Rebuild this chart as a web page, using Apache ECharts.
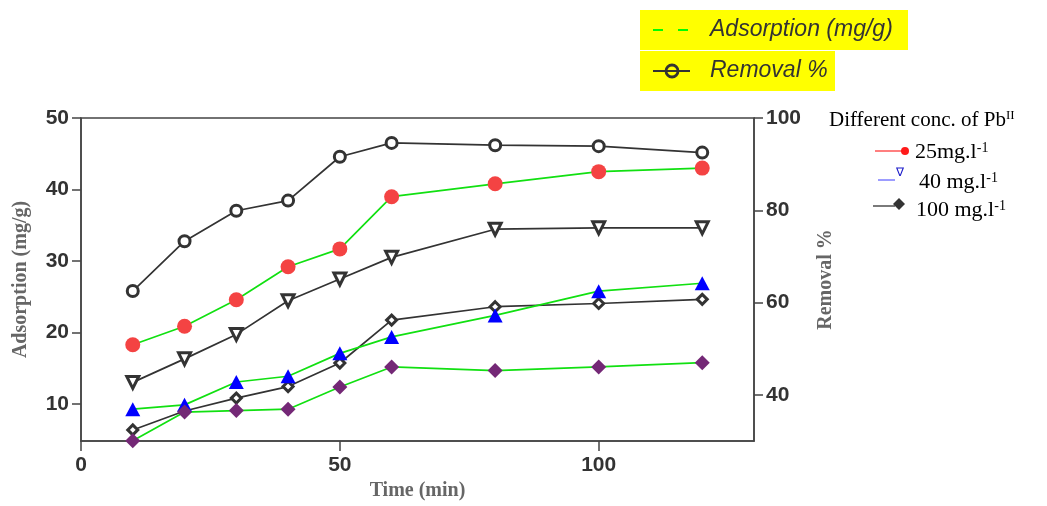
<!DOCTYPE html>
<html>
<head>
<meta charset="utf-8">
<script src="https://cdn.jsdelivr.net/npm/echarts@6/dist/echarts.min.js"></script>
<style>
  html, body { margin: 0; padding: 0; background: #fff; }
  #chart { width: 1047px; height: 506px; }
</style>
</head>
<body>
<div id="chart"></div>
<script>
// ---- data ----
const times = [10, 20, 30, 40, 50, 60, 80, 100, 120];
// Adsorption (mg/g) – left axis
const ads25  = [18.3, 20.9, 24.6, 29.2, 31.7, 39.0, 40.8, 42.5, 43.0];
const ads40  = [9.3, 9.9, 13.1, 13.9, 17.1, 19.4, 22.4, 25.8, 26.9];
const ads100 = [4.9, 8.9, 9.1, 9.3, 12.4, 15.2, 14.7, 15.2, 15.8];
// Removal % – right axis
const rem25  = [62.5, 73.3, 79.9, 82.1, 91.6, 94.6, 94.1, 93.9, 92.5];
const rem40  = [42.7, 47.8, 53.1, 60.4, 65.1, 69.8, 75.9, 76.2, 76.2];
const rem100 = [32.4, 36.5, 39.3, 41.8, 46.9, 56.2, 59.1, 59.8, 60.7];
// tick labels
const xTicks = [0, 50, 100];
const leftTicks = [10, 20, 30, 40, 50];
const rightTicks = [40, 60, 80, 100];

const pairs = arr => times.map((t, i) => [t, arr[i]]);

const AXIS = '#444';
const SANS = '"Liberation Sans", Arial, sans-serif';
const SERIF = '"Liberation Serif", "Times New Roman", serif';
const GREEN = '#11e011';
const DARK = '#333';

const labelStyle = { color: '#333', fontFamily: SANS, fontWeight: 'bold', fontSize: 21 };
const nameStyle = { color: '#666', fontFamily: SERIF, fontWeight: 'bold', fontSize: 20 };

function adsSeries(name, data, symbol, size, color) {
  return {
    name, type: 'line', yAxisIndex: 0, data: pairs(data),
    symbol, symbolSize: size, showAllSymbol: true,
    lineStyle: { color: GREEN, width: 1.7 },
    itemStyle: { color: color, borderWidth: 0 },
    emphasis: { disabled: true }, z: 3
  };
}
function remSeries(name, data, symbol, size, rotate) {
  return {
    name, type: 'line', yAxisIndex: 1, data: pairs(data),
    symbol, symbolSize: size, symbolRotate: rotate || 0, showAllSymbol: true,
    lineStyle: { color: DARK, width: 1.7 },
    itemStyle: { color: '#fff', borderColor: DARK, borderWidth: 3 },
    emphasis: { disabled: true }, z: 2
  };
}

const chart = echarts.init(document.getElementById('chart'));
chart.setOption({
  animation: false,
  backgroundColor: '#fff',
  grid: { left: 81, right: 293, top: 118, bottom: 61, show: true, borderColor: AXIS, borderWidth: 1.5, backgroundColor: 'transparent' },
  xAxis: {
    type: 'value', min: 0, max: 130,
    name: 'Time (min)', nameLocation: 'middle', nameGap: 40, nameTextStyle: nameStyle,
    axisLine: { show: true, onZero: false, lineStyle: { color: AXIS, width: 1.5 } },
    axisTick: { show: true, length: 10, customValues: xTicks, lineStyle: { color: AXIS, width: 1.5 } },
    axisLabel: { customValues: xTicks, margin: 14, ...labelStyle },
    splitLine: { show: false }
  },
  yAxis: [
    {
      type: 'value', min: 4.85, max: 50, position: 'left',
      name: 'Adsorption (mg/g)', nameLocation: 'middle', nameGap: 50, nameRotate: 90, nameTextStyle: nameStyle,
      axisLine: { show: true, onZero: false, lineStyle: { color: AXIS, width: 1.5 } },
      axisTick: { show: true, length: 9, customValues: leftTicks, lineStyle: { color: AXIS, width: 1.5 } },
      axisLabel: { customValues: leftTicks, margin: 12, ...labelStyle },
      splitLine: { show: false }
    },
    {
      type: 'value', min: 30, max: 100, position: 'right',
      name: 'Removal %', nameLocation: 'middle', nameGap: 62, nameRotate: 90, nameTextStyle: nameStyle,
      axisLine: { show: true, onZero: false, lineStyle: { color: AXIS, width: 1.5 } },
      axisTick: { show: true, length: 9, customValues: rightTicks, lineStyle: { color: AXIS, width: 1.5 } },
      axisLabel: { customValues: rightTicks, margin: 12, ...labelStyle },
      splitLine: { show: false }
    }
  ],
  series: [
    remSeries('Removal 25', rem25, 'circle', 11),
    remSeries('Removal 40', rem40, 'triangle', 12, 180),
    remSeries('Removal 100', rem100, 'diamond', 10),
    adsSeries('Adsorption 25', ads25, 'circle', 15, '#f44343'),
    adsSeries('Adsorption 40', ads40, 'triangle', [15, 14], '#0000ff'),
    adsSeries('Adsorption 100', ads100, 'diamond', [15, 15], '#742876')
  ],
  graphic: [
    // top legend
    { type: 'rect', shape: { x: 640, y: 10, width: 268, height: 40 }, style: { fill: '#ffff00' }, silent: true },
    { type: 'line', shape: { x1: 653, y1: 30, x2: 690, y2: 30 }, style: { stroke: '#00ff00', lineWidth: 2, lineDash: [10, 15] }, silent: true },
    { type: 'text', x: 710, y: 30, style: { text: 'Adsorption (mg/g)', font: 'italic 23px ' + SANS, fill: '#333', align: 'left', verticalAlign: 'middle' }, silent: true },
    { type: 'rect', shape: { x: 640, y: 51, width: 195, height: 40 }, style: { fill: '#ffff00' }, silent: true },
    { type: 'line', shape: { x1: 653, y1: 71, x2: 690, y2: 71 }, style: { stroke: '#333', lineWidth: 2 }, silent: true },
    { type: 'circle', shape: { cx: 672, cy: 71, r: 6 }, style: { fill: 'none', stroke: '#333', lineWidth: 2.8 }, silent: true },
    { type: 'text', x: 710, y: 71, style: { text: 'Removal %', font: 'italic 23px ' + SANS, fill: '#333', align: 'left', verticalAlign: 'middle' }, silent: true },
    // right legend
    { type: 'text', x: 829, y: 120, style: {
        text: '{a|Different conc. of Pb}{s|II}', align: 'left', verticalAlign: 'middle',
        rich: { a: { fontFamily: SERIF, fontSize: 21, color: '#111' }, s: { fontFamily: SERIF, fontSize: 13, color: '#111', verticalAlign: 'top', padding: [0, 0, 4, 0] } } }, silent: true },
    { type: 'line', shape: { x1: 875, y1: 151, x2: 902, y2: 151 }, style: { stroke: '#ff2a2a', lineWidth: 1.2 }, silent: true },
    { type: 'circle', shape: { cx: 905, cy: 151, r: 4 }, style: { fill: '#ff1a1a' }, silent: true },
    { type: 'text', x: 915, y: 152, style: {
        text: '{a|25mg.l}{s|-1}', align: 'left', verticalAlign: 'middle',
        rich: { a: { fontFamily: SERIF, fontSize: 22, color: '#ff1a1a' }, s: { fontFamily: SERIF, fontSize: 14, color: '#ff1a1a', verticalAlign: 'top' } } }, silent: true },
    { type: 'line', shape: { x1: 878, y1: 180, x2: 895, y2: 180 }, style: { stroke: '#3b3bff', lineWidth: 1 }, silent: true },
    { type: 'text', x: 900, y: 173, style: { text: '∇', fontFamily: SERIF, fontSize: 12, fill: '#1414c8', align: 'center', verticalAlign: 'middle' }, silent: true },
    { type: 'text', x: 919, y: 182, style: {
        text: '{a|40 mg.l}{s|-1}', align: 'left', verticalAlign: 'middle',
        rich: { a: { fontFamily: SERIF, fontSize: 22, color: '#1414c8' }, s: { fontFamily: SERIF, fontSize: 14, color: '#1414c8', verticalAlign: 'top' } } }, silent: true },
    { type: 'line', shape: { x1: 873, y1: 206, x2: 895, y2: 206 }, style: { stroke: '#222', lineWidth: 1.2 }, silent: true },
    { type: 'polygon', shape: { points: [[899, 198], [905, 204], [899, 210], [893, 204]] }, style: { fill: '#333' }, silent: true },
    { type: 'text', x: 916, y: 210, style: {
        text: '{a|100 mg.l}{s|-1}', align: 'left', verticalAlign: 'middle',
        rich: { a: { fontFamily: SERIF, fontSize: 22, color: '#333' }, s: { fontFamily: SERIF, fontSize: 14, color: '#333', verticalAlign: 'top' } } }, silent: true }
  ]
});
</script>
</body>
</html>
